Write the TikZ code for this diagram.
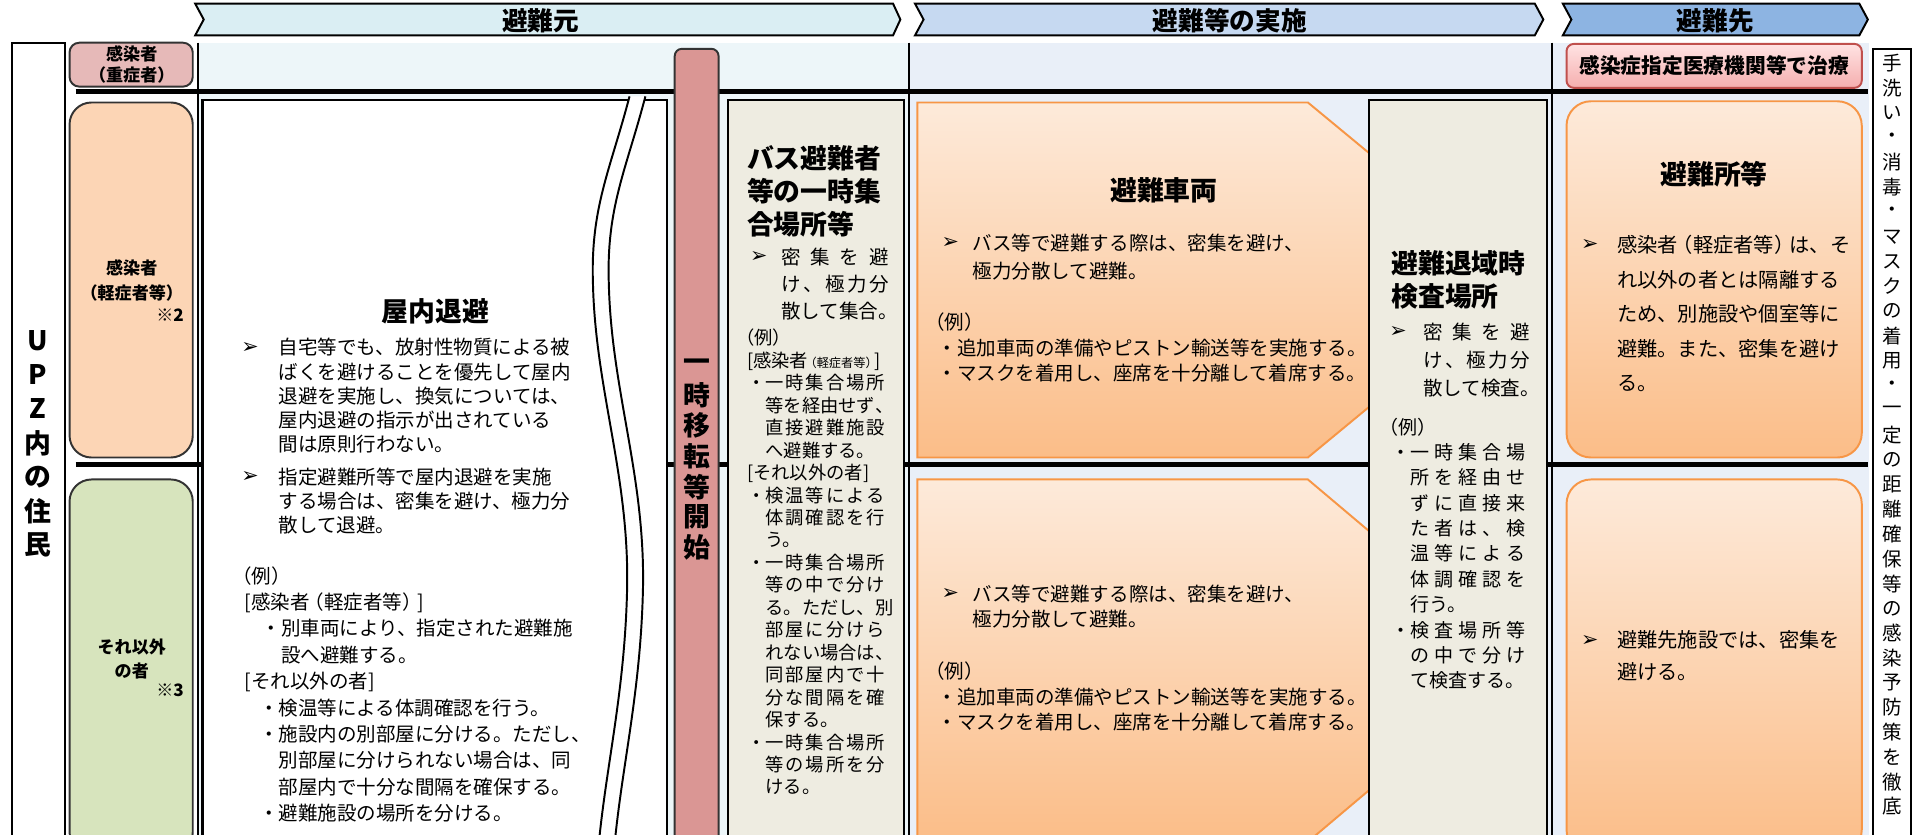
\documentclass[tikz,border=0pt]{standalone}
\usepackage{fontspec}
\setmainfont{Noto Sans CJK JP}
\newfontfamily\dejavu{DejaVu Sans}
\definecolor{chevA}{HTML}{DAEEF3}
\definecolor{chevB}{HTML}{C6D9F1}
\definecolor{chevC}{HTML}{8DB4E2}
\definecolor{bgA}{HTML}{EDF6F9}
\definecolor{bgB}{HTML}{E9EFF8}
\definecolor{pinkhdr}{HTML}{E6B9B8}
\definecolor{peach}{HTML}{FCD5B5}
\definecolor{sage}{HTML}{D7E4BD}
\definecolor{rosebar}{HTML}{DA9694}
\definecolor{paper}{HTML}{EEECE1}
\definecolor{orgline}{HTML}{F79646}
\definecolor{orgtop}{HTML}{FDEADA}
\definecolor{orgbot}{HTML}{FBBD88}
\definecolor{redline}{HTML}{C0504D}
\definecolor{redtop}{HTML}{FFE3E3}
\definecolor{redbot}{HTML}{F5AEAE}
% spread a line of kana/kanji over a fixed width
\makeatletter
\newcommand{\wide}[2]{\makebox[#1][s]{\let\wd@sep\relax\@tfor\wd@c:=#2\do{\wd@sep\wd@c\let\wd@sep\hfil}}}
\makeatother
\begin{document}
\begin{tikzpicture}[x=0.5pt,y=-0.5pt]
	\def \toprow{35}
	\def \lineA{75}
	\def \lineB{381}
	\def \basement{700}
	\tikzstyle{chev}=[draw=black,line width=0.8pt]
	\tikzstyle{chevtxt}=[inner sep=0pt,font=\bfseries\fontsize{10.5}{12}\selectfont]
	\tikzstyle{hdr}=[draw=black!80,line width=0.8pt]
	\tikzstyle{hdrtxt}=[inner sep=0pt,align=center,font=\bfseries\fontsize{7}{8.5}\selectfont]
	\tikzstyle{gbox}=[draw=black,line width=0.9pt,fill=paper]
	\tikzstyle{obox}=[draw=orgline,line width=0.8pt,top color=orgtop,bottom color=orgbot]
	\tikzstyle{ttl}=[inner sep=0pt,font=\bfseries\fontsize{11}{13.5}\selectfont]
	\tikzstyle{body}=[anchor=north west,inner sep=0pt,align=left,font=\fontsize{8}{10}\selectfont]
	\tikzstyle{arw}=[inner sep=0pt,font=\dejavu\fontsize{8.5}{9}\selectfont]
	\tikzstyle{vchar}=[inner sep=0pt,font=\bfseries\fontsize{11}{11}\selectfont]
	\tikzstyle{rchar}=[inner sep=0pt,font=\fontsize{8}{8}\selectfont]

	\useasboundingbox (0,0) rectangle (1568,684);
	\clip (0,0) rectangle (1568,684);

	% backgrounds and rules
	\fill[bgA] (162,\toprow) rectangle (745,\basement);
	\fill[bgB] (745,\toprow) rectangle (1532,\basement);
	\draw[line width=2pt] (62,\lineA) -- (1531,\lineA);
	\draw[line width=2pt] (62,\lineB) -- (1531,\lineB);
	\draw[line width=0.9pt] (162,\toprow) -- (162,\basement);
	\draw[line width=0.6pt] (745,\toprow) -- (745,\basement);
	\draw[line width=0.9pt] (1272,\toprow) -- (1272,\basement);

	% stage arrows
	\draw[chev,fill=chevA] (160,3) -- (732,3) -- (738,16) -- (732,29) -- (160,29) -- (167,16) -- cycle;
	\draw[chev,fill=chevB] (750,3) -- (1258,3) -- (1265,16) -- (1258,29) -- (750,29) -- (757,16) -- cycle;
	\draw[chev,fill=chevC] (1281,3) -- (1524,3) -- (1531,16) -- (1524,29) -- (1281,29) -- (1288,16) -- cycle;
	\node[chevtxt] (src) at (443,17) {避難元};
	\node[chevtxt] (act) at (1008,17) {避難等の実施};
	\node[chevtxt] (dst) at (1406,17) {避難先};

	% residents column
	\draw[line width=0.8pt,fill=white] (10,\toprow) rectangle (53,\basement);
	\foreach \c [count=\i from 0] in {U,P,Z,内,の,住,民}
		\node[vchar] (upz\i) at (31,{279+28*\i}) {\c};

	% row headers
	\draw[hdr,fill=pinkhdr,rounded corners=4pt] (57,35) rectangle (158,71);
	\draw[hdr,fill=peach,rounded corners=9pt] (57,84) rectangle (158,375);
	\draw[hdr,fill=sage,rounded corners=9pt] (57,393) rectangle (158,\basement);
	\node[hdrtxt] (sev) at (108,53) {感染者\\\kern-3pt（重症者）\kern-3pt};
	\node[hdrtxt,font=\bfseries\fontsize{7}{10}\selectfont] (mild) at (108,230) {感染者\\\kern-3pt（軽症者等）\kern-3pt};
	\node[hdrtxt,anchor=east] (note2) at (151,258) {※2};
	\node[hdrtxt,font=\bfseries\fontsize{7}{10}\selectfont] (other) at (108,540) {それ以外\\の者};
	\node[hdrtxt,anchor=east] (note3) at (151,566) {※3};

	% indoor sheltering
	\draw[line width=0.9pt,fill=white] (166,82) rectangle (547,\basement);
	\fill[white] (516,79) .. controls (500,140) and (484,170) .. (486,232) .. controls (488,320) and (516,390) .. (514,483) .. controls (512,570) and (496,630) .. (490,\basement)
		-- (503,\basement) .. controls (509,630) and (525,570) .. (527,483) .. controls (529,390) and (501,320) .. (499,232) .. controls (497,170) and (513,140) .. (529,79) -- cycle;
	\draw[line width=0.8pt] (516,79) .. controls (500,140) and (484,170) .. (486,232) .. controls (488,320) and (516,390) .. (514,483) .. controls (512,570) and (496,630) .. (490,\basement);
	\draw[line width=0.8pt] (529,79) .. controls (513,140) and (497,170) .. (499,232) .. controls (501,320) and (529,390) .. (527,483) .. controls (525,570) and (509,630) .. (503,\basement);
	\node[ttl] (shelter) at (357,255) {屋内退避};
	\node[arw] (s-a1) at (205,285) {➢};
	\node[body,font=\fontsize{8}{9.9}\selectfont] (s-t1) at (228,277) {自宅等でも、放射性物質による被\\ばくを避けることを優先して屋内\\退避を実施し、換気については、\\屋内退避の指示が出されている\\間は原則行わない。};
	\node[arw] (s-a2) at (205,391) {➢};
	\node[body,font=\fontsize{8}{9.9}\selectfont] (s-t2) at (228,383) {指定避難所等で屋内退避を実施\\する場合は、密集を避け、極力分\\散して退避。};
	\node[body,font=\fontsize{8}{10.8}\selectfont] (s-ex) at (200,464) {\hspace*{-5pt}（例）\\{[}感染者\kern-2pt（軽症者等）\kern-2pt{]}\\\hspace*{7pt}・別車両により、指定された避難施\\\hspace*{15pt}設へ避難する。\\{[}それ以外の者{]}\\\hspace*{6pt}・検温等による体調確認を行う。\\\hspace*{6pt}・施設内の別部屋に分ける。ただし、\\\hspace*{14pt}別部屋に分けられない場合は、同\\\hspace*{14pt}部屋内で十分な間隔を確保する。\\\hspace*{6pt}・避難施設の場所を分ける。};

	% relocation bar
	\draw[line width=0.8pt,draw=black!80,fill=rosebar,rounded corners=3pt] (553,40) rectangle (589,\basement);
	\foreach \c [count=\i from 0] in {一,時,移,転,等,開,始}
		\node[vchar] (move\i) at (571,{299+25*\i}) {\c};

	% bus assembly point
	\draw[gbox] (597,82) rectangle (741,\basement);
	\node[ttl,anchor=north west,align=left] (bus-t) at (612,119) {バス避難者\\等の一時集\\合場所等};
	\node[arw] (bus-a) at (622,211) {➢};
	\node[body,font=\fontsize{8}{11}\selectfont] (bus-b) at (640,203) {\wide{44pt}{密集を避}\\\wide{44pt}{け、極力分}\\散して集合。};
	\node[body,font=\fontsize{7.5}{9.2}\selectfont] (bus-ex) at (612,269.5) {\hspace*{-4.5pt}（例）\\{[}感染者{\fontsize{5}{6}\selectfont\kern-1.5pt（軽症者等）\kern-1.5pt}{]}\\・\wide{49pt}{一時集合場所}\\\hspace*{7.5pt}\wide{49pt}{等を経由せず、}\\\hspace*{7.5pt}\wide{49pt}{直接避難施設}\\\hspace*{7.5pt}へ避難する。\\{[}それ以外の者{]}\\・\wide{49pt}{検温等による}\\\hspace*{7.5pt}\wide{49pt}{体調確認を行}\\\hspace*{7.5pt}う。\\・\wide{49pt}{一時集合場所}\\\hspace*{7.5pt}\wide{49pt}{等の中で分け}\\\hspace*{7.5pt}\wide{49pt}{る。ただし、別}\\\hspace*{7.5pt}\wide{49pt}{部屋に分けら}\\\hspace*{7.5pt}\wide{49pt}{れない場合は、}\\\hspace*{7.5pt}\wide{49pt}{同部屋内で十}\\\hspace*{7.5pt}\wide{49pt}{分な間隔を確}\\\hspace*{7.5pt}保する。\\・\wide{49pt}{一時集合場所}\\\hspace*{7.5pt}\wide{49pt}{等の場所を分}\\\hspace*{7.5pt}ける。};

	% evacuation vehicles
	\draw[obox] (752,84) -- (1072,84) -- (1248,229.5) -- (1072,375) -- (752,375) -- cycle;
	\draw[obox] (752,393) -- (1072,393) -- (1248,541.5) -- (1072,690) -- (752,690) -- cycle;
	\node[ttl] (car) at (954,156) {避難車両};
	\node[arw] (car1-a) at (779,199) {➢};
	\node[body,font=\fontsize{8}{11.5}\selectfont] (car1-b) at (797,191) {バス等で避難する際は、密集を避け、\\極力分散して避難。};
	\node[body,font=\fontsize{8}{10.5}\selectfont] (car1-ex) at (768,256) {\hspace*{-5pt}（例）\\・追加車両の準備やピストン輸送等を実施する。\\・マスクを着用し、座席を十分離して着席する。};
	\node[arw] (car2-a) at (779,487) {➢};
	\node[body,font=\fontsize{8}{10.5}\selectfont] (car2-b) at (797,479) {バス等で避難する際は、密集を避け、\\極力分散して避難。};
	\node[body,font=\fontsize{8}{10.5}\selectfont] (car2-ex) at (768,542) {\hspace*{-5pt}（例）\\・追加車両の準備やピストン輸送等を実施する。\\・マスクを着用し、座席を十分離して着席する。};

	% screening point
	\draw[gbox] (1122,82) rectangle (1268,\basement);
	\node[ttl,anchor=north west,align=left] (chk-t) at (1140,205) {避難退域時\\検査場所};
	\node[arw] (chk-a) at (1146,272) {➢};
	\node[body,font=\fontsize{8}{11.5}\selectfont] (chk-b) at (1166,264) {\wide{44pt}{密集を避}\\\wide{44pt}{け、極力分}\\散して検査。};
	\node[body,font=\fontsize{7.8}{10.4}\selectfont] (chk-ex) at (1140,342) {\hspace*{-4.7pt}（例）\\・\wide{47pt}{一時集合場}\\\hspace*{7.8pt}\wide{47pt}{所を経由せ}\\\hspace*{7.8pt}\wide{47pt}{ずに直接来}\\\hspace*{7.8pt}\wide{47pt}{た者は、検}\\\hspace*{7.8pt}\wide{47pt}{温等による}\\\hspace*{7.8pt}\wide{47pt}{体調確認を}\\\hspace*{7.8pt}行う。\\・\wide{47pt}{検査場所等}\\\hspace*{7.8pt}\wide{47pt}{の中で分け}\\\hspace*{7.8pt}て検査する。};

	% destination
	\draw[draw=redline,line width=0.8pt,top color=redtop,bottom color=redbot,rounded corners=3pt] (1284,36) rectangle (1526,72);
	\node[inner sep=0pt,font=\bfseries\fontsize{8.5}{10}\selectfont] (hosp) at (1405,54) {感染症指定医療機関等で治療};
	\draw[obox,rounded corners=10pt] (1284,83) rectangle (1526,375);
	\draw[obox,rounded corners=10pt] (1284,393) rectangle (1526,\basement);
	\node[ttl] (shel) at (1405,143) {避難所等};
	\node[arw] (shel-a) at (1303,201) {➢};
	\node[body,font=\fontsize{8.3}{14.1}\selectfont] (shel-b) at (1325,192.7) {感染者\kern-2pt（軽症者等）\kern-2pt は、そ\\れ以外の者とは隔離する\\ため、別施設や個室等に\\避難。また、密集を避け\\る。};
	\node[arw] (dst-a) at (1303,525) {➢};
	\node[body,font=\fontsize{8.3}{13}\selectfont] (dst-b) at (1325,516.7) {避難先施設では、密集を\\避ける。};

	% infection control note
	\draw[line width=0.8pt,fill=white] (1535,40) rectangle (1566,\basement);
	\foreach \c [count=\i from 0] in {手,洗,い,・,消,毒,・,マ,ス,ク,の,着,用,・,一,定,の,距,離,確,保,等,の,感,染,予,防,策,を,徹,底}
		\node[rchar] (rc\i) at (1551,{52+20.3*\i}) {\c};
\end{tikzpicture}
\end{document}
